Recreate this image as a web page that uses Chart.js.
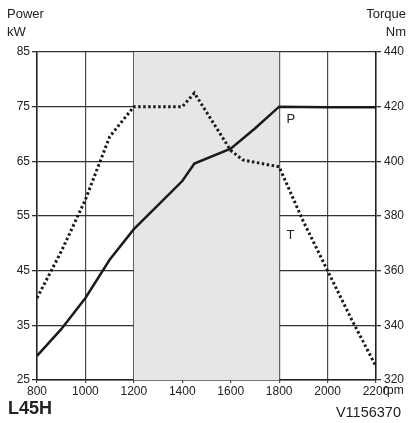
<!DOCTYPE html>
<html>
<head>
<meta charset="utf-8">
<script src="https://cdn.jsdelivr.net/npm/chart.js@4"></script>
<style>
  body { margin: 0; background: #fff; font-family: "Liberation Sans", Arial, sans-serif; }
  #wrap { position: relative; width: 409px; height: 423px; }
  canvas { display: block; }
  .t { position: absolute; color: #222; font-size: 13px; line-height: 18px; }
</style>
</head>
<body>
<div id="wrap">
  <canvas id="engineChart" width="409" height="423"></canvas>
  <div class="t" style="left:7px;top:5px;">Power<br>kW</div>
  <div class="t" style="right:3px;top:5px;text-align:right;">Torque<br>Nm</div>
  <div class="t" style="left:383px;top:381px;font-size:12px;">rpm</div>
  <div class="t" style="left:8px;top:399px;font-size:18px;font-weight:bold;">L45H</div>
  <div class="t" style="right:8px;top:403px;font-size:14.5px;">V1156370</div>
</div>
<script>
// 엔진 출력/토크 곡선
const powerRpm = [800, 900, 1000, 1100, 1200, 1300, 1400, 1450, 1600, 1700, 1800, 2000, 2200];
const powerKw = [29.4, 34.3, 40, 47, 52.6, 57, 61.4, 64.6, 67.3, 71, 75, 74.9, 74.9];

const torqueRpm = [800, 900, 1000, 1100, 1200, 1400, 1450, 1600, 1650, 1800, 1900, 2000, 2100, 2200];
const torqueNm = [350, 367, 386, 409, 420, 420, 425, 404, 400.5, 398, 378, 360, 342, 325];

const xTicks = [800, 1000, 1200, 1400, 1600, 1800, 2000, 2200];
const bandRange = [1200, 1800]; // 회색 구간

const toPoints = (xs, ys) => xs.map((x, i) => ({ x: x, y: ys[i] }));

const bandPlugin = {
    id: 'band',
    beforeDatasetsDraw(chart) {
        const { ctx, chartArea, scales } = chart;
        const x0 = scales.x.getPixelForValue(bandRange[0]);
        const x1 = scales.x.getPixelForValue(bandRange[1]);
        ctx.save();
        ctx.fillStyle = '#e6e6e6';
        ctx.fillRect(x0, chartArea.top, x1 - x0, chartArea.bottom - chartArea.top);
        ctx.restore();
    },
    afterDatasetsDraw(chart) {
        const { ctx, scales } = chart;
        ctx.save();
        ctx.fillStyle = '#222';
        ctx.font = '13px "Liberation Sans", Arial, sans-serif';
        ctx.textBaseline = 'middle';
        ctx.fillText('P', scales.x.getPixelForValue(1830), scales.y.getPixelForValue(72.7));
        ctx.fillText('T', scales.x.getPixelForValue(1830), scales.y1.getPixelForValue(373));
        ctx.restore();
    }
};

// 축 위치를 원본과 맞추기 위해 고정 폭 사용
const fixW = w => scale => { scale.width = w; };
const tickFont = { family: '"Liberation Sans", Arial', size: 12 };

const ctx = document.getElementById('engineChart');

new Chart(ctx, {
    type: 'line',
    data: {
        datasets: [
            {
                label: 'P',
                data: toPoints(powerRpm, powerKw),
                yAxisID: 'y',
                borderColor: '#1a1a1a',
                borderWidth: 2.5,
                pointRadius: 0,
                tension: 0
            },
            {
                label: 'T',
                data: toPoints(torqueRpm, torqueNm),
                yAxisID: 'y1',
                borderColor: '#1a1a1a',
                borderWidth: 3,
                borderDash: [2.5, 2.5],
                pointRadius: 0,
                tension: 0
            }
        ]
    },
    options: {
        responsive: false,
        animation: false,
        layout: { padding: { left: 0, right: 0, top: 52, bottom: 23 } },
        plugins: { legend: { display: false }, tooltip: { enabled: false } },
        scales: {
            x: {
                type: 'linear',
                min: 800,
                max: 2200,
                afterBuildTicks: scale => { scale.ticks = xTicks.map(v => ({ value: v })); },
                afterFit: scale => { scale.height = 20; },
                grid: { color: '#4a4a4a', lineWidth: 1.2, tickLength: 3 },
                border: { color: '#222', width: 1.5 },
                ticks: { color: '#222', padding: 1, maxRotation: 0, font: tickFont, callback: v => String(v) }
            },
            y: {
                position: 'left',
                min: 25,
                max: 85,
                afterFit: fixW(37),
                ticks: { stepSize: 10, color: '#222', padding: 2, font: tickFont },
                grid: { color: '#333', lineWidth: 1.3, tickLength: 5 },
                border: { color: '#222', width: 1.5 }
            },
            y1: {
                position: 'right',
                min: 320,
                max: 440,
                afterFit: fixW(33),
                ticks: { stepSize: 20, color: '#222', padding: 3, font: tickFont },
                grid: { drawOnChartArea: false, color: '#333', lineWidth: 1.3, tickLength: 5 },
                border: { color: '#222', width: 1.5 }
            }
        }
    },
    plugins: [bandPlugin]
});
</script>
</body>
</html>
